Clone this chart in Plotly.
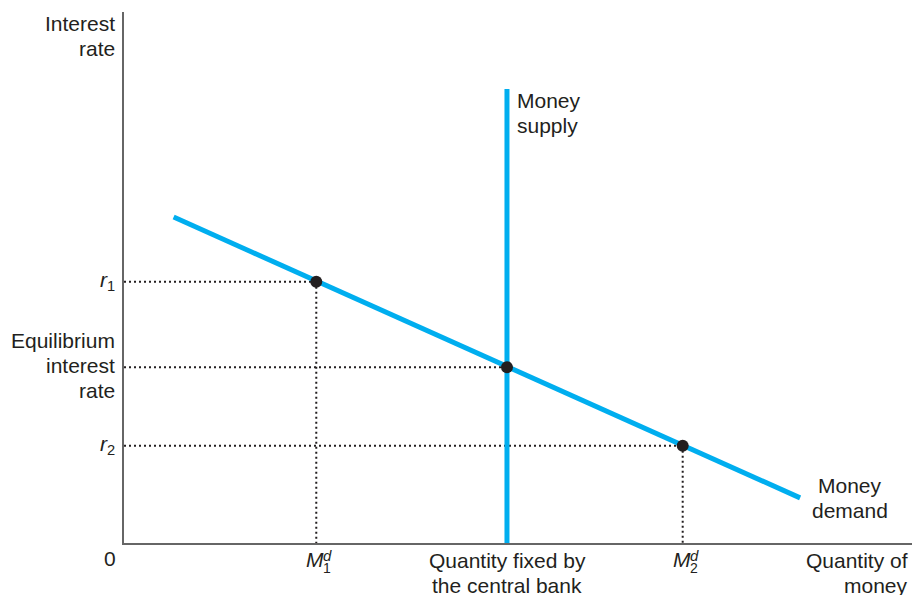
import plotly.graph_objects as go

# money demand line end points (quantity, interest rate)
demand_q = [6.3, 85.8]
demand_r = [61.4, 8.5]

# money supply fixed by the central bank
supply_q = 48.6
supply_top = 85.5

# marked points on the demand curve
point_q = [24.4, 48.6, 70.9]
point_r = [49.2, 33.1, 18.3]

# text labels (one entry per line)
y_title = ["Interest", "rate"]
x_title = ["Quantity of", "money"]
r_labels = ["<i>r</i><sub>1</sub>", "<i>r</i><sub>2</sub>"]
eq_label = ["Equilibrium", "interest", "rate"]
fixed_label = ["Quantity fixed by", "the central bank"]
m_subs = ["1", "2"]
supply_label = ["Money", "supply"]
demand_label = ["Money", "demand"]

blue = "#00aeef"
ink = "#231f20"
family = "Liberation Sans, Arial, Helvetica, sans-serif"

# plot area in page pixels
PL, PR, PT, PB = 124, 912, 12, 543
W, H = 912, 595


def label(lines, px, base, anchor, size=21, lead=25, align="left"):
    for k, line in enumerate(lines):
        mid = base + k * lead - 0.34 * size
        fig.add_annotation(text=line, xref="paper", yref="paper",
                           x=(px - PL) / (PR - PL), y=(PB - mid) / (PB - PT),
                           xanchor=anchor, yanchor="middle", align=align,
                           borderpad=0, borderwidth=0, showarrow=False,
                           font=dict(family=family, size=size, color=ink))


fig = go.Figure()

# dotted guides
for i, (q, r) in enumerate(zip(point_q, point_r)):
    fig.add_trace(go.Scatter(x=[0, q], y=[r, r], mode="lines",
                             line=dict(color=ink, width=2, dash="2px,3px"),
                             hoverinfo="skip", showlegend=False))
    if i != 1:
        fig.add_trace(go.Scatter(x=[q, q], y=[r, 0], mode="lines",
                                 line=dict(color=ink, width=2, dash="2px,3px"),
                                 hoverinfo="skip", showlegend=False))

fig.add_trace(go.Scatter(x=demand_q, y=demand_r, mode="lines",
                         line=dict(color=blue, width=5), showlegend=False))
fig.add_trace(go.Scatter(x=[supply_q, supply_q], y=[0, supply_top], mode="lines",
                         line=dict(color=blue, width=5), showlegend=False))
fig.add_trace(go.Scatter(x=point_q, y=point_r, mode="markers",
                         marker=dict(color=ink, size=12), showlegend=False))

label(y_title, 115, 31, "right")
label(eq_label, 115, 348, "right")
label([r_labels[0]], 115, 288, "right")
label([r_labels[1]], 115, 452, "right")
label(["0"], 116, 566, "right")
label(fixed_label, 507, 568, "center")
label(x_title, 908, 568, "right")
label(supply_label, 517, 108, "left")
label(demand_label, 850, 493, "center")

# M^d_1 and M^d_2 with stacked super/subscripts
for px, s in zip([316, 683], m_subs):
    label(["<i>M</i>"], px + 8, 567, "right")
    label(["<i>d</i>"], px + 7, 561, "left", size=15)
    label([s], px + 7, 573, "left", size=14)

fig.update_layout(
    width=W, height=H,
    margin=dict(l=PL, r=W - PR, t=PT, b=H - PB),
    paper_bgcolor="white", plot_bgcolor="white",
    xaxis=dict(range=[0, 100], showgrid=False, zeroline=False,
               showline=True, linecolor="#666666", linewidth=2,
               showticklabels=False, ticks="", fixedrange=True),
    yaxis=dict(range=[0, 100], showgrid=False, zeroline=False,
               showline=True, linecolor="#666666", linewidth=2,
               showticklabels=False, ticks="", fixedrange=True),
)

fig.write_html("out.html", config={"displayModeBar": False},
               post_script="document.body.style.margin='0';"
                           "document.body.style.overflow='hidden';")
